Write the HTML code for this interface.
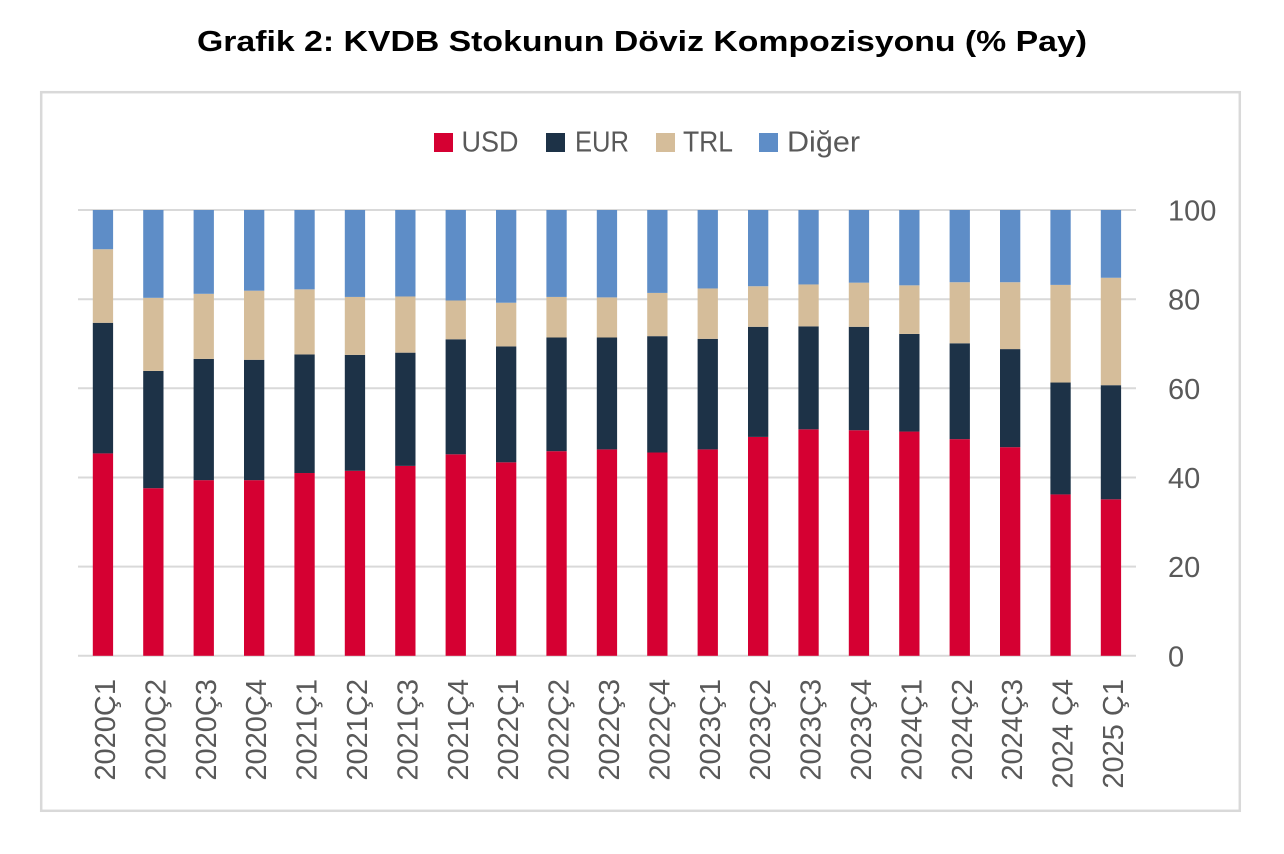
<!DOCTYPE html>
<html>
<head>
<meta charset="utf-8">
<style>
  html,body{margin:0;padding:0;background:#fff;}
  svg{display:block;}
  text{font-family:"Liberation Sans", sans-serif;}
</style>
</head>
<body>
<svg width="1284" height="854" viewBox="0 0 1284 854" xmlns="http://www.w3.org/2000/svg">
  <rect x="0" y="0" width="1284" height="854" fill="#fff"/>
  <!-- Title -->
  <text x="197" y="51" font-size="29" font-weight="bold" fill="#000" textLength="890" lengthAdjust="spacingAndGlyphs">Grafik 2: KVDB Stokunun Döviz Kompozisyonu (% Pay)</text>
  <!-- Frame -->
  <rect x="41.2" y="92.2" width="1198.6" height="718.6" fill="none" stroke="#d9d9d9" stroke-width="2.5"/>

  <!-- Legend -->
  <rect x="434" y="133" width="19" height="19" fill="#d50032"/>
  <text x="461.5" y="151.5" font-size="29" fill="#595959" textLength="57" lengthAdjust="spacingAndGlyphs">USD</text>
  <rect x="546" y="133" width="19" height="19" fill="#1d3247"/>
  <text x="575" y="151.5" font-size="29" fill="#595959" textLength="54" lengthAdjust="spacingAndGlyphs">EUR</text>
  <rect x="656" y="133" width="19" height="19" fill="#d5bd9a"/>
  <text x="683" y="151.5" font-size="29" fill="#595959" textLength="50" lengthAdjust="spacingAndGlyphs">TRL</text>
  <rect x="759" y="133" width="19" height="19" fill="#5e8dc7"/>
  <text x="787" y="151.5" font-size="29" fill="#595959" textLength="73" lengthAdjust="spacingAndGlyphs">Diğer</text>

  <!-- Gridlines -->
  <g stroke="#d9d9d9" stroke-width="2">
    <line x1="78" y1="210" x2="1136" y2="210"/>
    <line x1="78" y1="299.2" x2="1136" y2="299.2"/>
    <line x1="78" y1="388.3" x2="1136" y2="388.3"/>
    <line x1="78" y1="477.5" x2="1136" y2="477.5"/>
    <line x1="78" y1="566.6" x2="1136" y2="566.6"/>
    <line x1="78" y1="655.8" x2="1136" y2="655.8"/>
  </g>

  <!-- Y labels -->
  <g font-size="29" fill="#595959">
    <text x="1168" y="220.5">100</text>
    <text x="1168" y="309.7">80</text>
    <text x="1168" y="398.8">60</text>
    <text x="1168" y="488">40</text>
    <text x="1168" y="577.1">20</text>
    <text x="1168" y="666.3">0</text>
  </g>

  <!-- Bars -->
  <g transform="translate(0,655.8) scale(1,-4.458)">
    <!-- 1 -->
    <rect x="92.8" y="0" width="20.3" height="45.4" fill="#d50032"/>
    <rect x="92.8" y="45.4" width="20.3" height="29.3" fill="#1d3247"/>
    <rect x="92.8" y="74.7" width="20.3" height="16.5" fill="#d5bd9a"/>
    <rect x="92.8" y="91.2" width="20.3" height="8.8" fill="#5e8dc7"/>
    <!-- 2 -->
    <rect x="143.2" y="0" width="20.3" height="37.6" fill="#d50032"/>
    <rect x="143.2" y="37.6" width="20.3" height="26.3" fill="#1d3247"/>
    <rect x="143.2" y="63.9" width="20.3" height="16.4" fill="#d5bd9a"/>
    <rect x="143.2" y="80.3" width="20.3" height="19.7" fill="#5e8dc7"/>
    <!-- 3 -->
    <rect x="193.6" y="0" width="20.3" height="39.4" fill="#d50032"/>
    <rect x="193.6" y="39.4" width="20.3" height="27.2" fill="#1d3247"/>
    <rect x="193.6" y="66.6" width="20.3" height="14.6" fill="#d5bd9a"/>
    <rect x="193.6" y="81.2" width="20.3" height="18.8" fill="#5e8dc7"/>
    <!-- 4 -->
    <rect x="244.0" y="0" width="20.3" height="39.4" fill="#d50032"/>
    <rect x="244.0" y="39.4" width="20.3" height="27.0" fill="#1d3247"/>
    <rect x="244.0" y="66.4" width="20.3" height="15.5" fill="#d5bd9a"/>
    <rect x="244.0" y="81.9" width="20.3" height="18.1" fill="#5e8dc7"/>
    <!-- 5 -->
    <rect x="294.4" y="0" width="20.3" height="41.0" fill="#d50032"/>
    <rect x="294.4" y="41.0" width="20.3" height="26.6" fill="#1d3247"/>
    <rect x="294.4" y="67.6" width="20.3" height="14.6" fill="#d5bd9a"/>
    <rect x="294.4" y="82.2" width="20.3" height="17.8" fill="#5e8dc7"/>
    <!-- 6 -->
    <rect x="344.8" y="0" width="20.3" height="41.5" fill="#d50032"/>
    <rect x="344.8" y="41.5" width="20.3" height="26.0" fill="#1d3247"/>
    <rect x="344.8" y="67.5" width="20.3" height="13.0" fill="#d5bd9a"/>
    <rect x="344.8" y="80.5" width="20.3" height="19.5" fill="#5e8dc7"/>
    <!-- 7 -->
    <rect x="395.2" y="0" width="20.3" height="42.6" fill="#d50032"/>
    <rect x="395.2" y="42.6" width="20.3" height="25.4" fill="#1d3247"/>
    <rect x="395.2" y="68.0" width="20.3" height="12.6" fill="#d5bd9a"/>
    <rect x="395.2" y="80.6" width="20.3" height="19.4" fill="#5e8dc7"/>
    <!-- 8 -->
    <rect x="445.6" y="0" width="20.3" height="45.2" fill="#d50032"/>
    <rect x="445.6" y="45.2" width="20.3" height="25.8" fill="#1d3247"/>
    <rect x="445.6" y="71.0" width="20.3" height="8.7" fill="#d5bd9a"/>
    <rect x="445.6" y="79.7" width="20.3" height="20.3" fill="#5e8dc7"/>
    <!-- 9 -->
    <rect x="496.0" y="0" width="20.3" height="43.4" fill="#d50032"/>
    <rect x="496.0" y="43.4" width="20.3" height="26.0" fill="#1d3247"/>
    <rect x="496.0" y="69.4" width="20.3" height="9.8" fill="#d5bd9a"/>
    <rect x="496.0" y="79.2" width="20.3" height="20.8" fill="#5e8dc7"/>
    <!-- 10 -->
    <rect x="546.4" y="0" width="20.3" height="45.9" fill="#d50032"/>
    <rect x="546.4" y="45.9" width="20.3" height="25.5" fill="#1d3247"/>
    <rect x="546.4" y="71.4" width="20.3" height="9.1" fill="#d5bd9a"/>
    <rect x="546.4" y="80.5" width="20.3" height="19.5" fill="#5e8dc7"/>
    <!-- 11 -->
    <rect x="596.8" y="0" width="20.3" height="46.3" fill="#d50032"/>
    <rect x="596.8" y="46.3" width="20.3" height="25.1" fill="#1d3247"/>
    <rect x="596.8" y="71.4" width="20.3" height="9.0" fill="#d5bd9a"/>
    <rect x="596.8" y="80.4" width="20.3" height="19.6" fill="#5e8dc7"/>
    <!-- 12 -->
    <rect x="647.2" y="0" width="20.3" height="45.6" fill="#d50032"/>
    <rect x="647.2" y="45.6" width="20.3" height="26.1" fill="#1d3247"/>
    <rect x="647.2" y="71.7" width="20.3" height="9.7" fill="#d5bd9a"/>
    <rect x="647.2" y="81.4" width="20.3" height="18.6" fill="#5e8dc7"/>
    <!-- 13 -->
    <rect x="697.6" y="0" width="20.3" height="46.3" fill="#d50032"/>
    <rect x="697.6" y="46.3" width="20.3" height="24.8" fill="#1d3247"/>
    <rect x="697.6" y="71.1" width="20.3" height="11.3" fill="#d5bd9a"/>
    <rect x="697.6" y="82.4" width="20.3" height="17.6" fill="#5e8dc7"/>
    <!-- 14 -->
    <rect x="748.0" y="0" width="20.3" height="49.1" fill="#d50032"/>
    <rect x="748.0" y="49.1" width="20.3" height="24.7" fill="#1d3247"/>
    <rect x="748.0" y="73.8" width="20.3" height="9.1" fill="#d5bd9a"/>
    <rect x="748.0" y="82.9" width="20.3" height="17.1" fill="#5e8dc7"/>
    <!-- 15 -->
    <rect x="798.4" y="0" width="20.3" height="50.8" fill="#d50032"/>
    <rect x="798.4" y="50.8" width="20.3" height="23.1" fill="#1d3247"/>
    <rect x="798.4" y="73.9" width="20.3" height="9.4" fill="#d5bd9a"/>
    <rect x="798.4" y="83.3" width="20.3" height="16.7" fill="#5e8dc7"/>
    <!-- 16 -->
    <rect x="848.8" y="0" width="20.3" height="50.6" fill="#d50032"/>
    <rect x="848.8" y="50.6" width="20.3" height="23.2" fill="#1d3247"/>
    <rect x="848.8" y="73.8" width="20.3" height="9.9" fill="#d5bd9a"/>
    <rect x="848.8" y="83.7" width="20.3" height="16.3" fill="#5e8dc7"/>
    <!-- 17 -->
    <rect x="899.2" y="0" width="20.3" height="50.3" fill="#d50032"/>
    <rect x="899.2" y="50.3" width="20.3" height="21.9" fill="#1d3247"/>
    <rect x="899.2" y="72.2" width="20.3" height="10.9" fill="#d5bd9a"/>
    <rect x="899.2" y="83.1" width="20.3" height="16.9" fill="#5e8dc7"/>
    <!-- 18 -->
    <rect x="949.6" y="0" width="20.3" height="48.6" fill="#d50032"/>
    <rect x="949.6" y="48.6" width="20.3" height="21.5" fill="#1d3247"/>
    <rect x="949.6" y="70.1" width="20.3" height="13.7" fill="#d5bd9a"/>
    <rect x="949.6" y="83.8" width="20.3" height="16.2" fill="#5e8dc7"/>
    <!-- 19 -->
    <rect x="1000.0" y="0" width="20.3" height="46.8" fill="#d50032"/>
    <rect x="1000.0" y="46.8" width="20.3" height="22.0" fill="#1d3247"/>
    <rect x="1000.0" y="68.8" width="20.3" height="15.0" fill="#d5bd9a"/>
    <rect x="1000.0" y="83.8" width="20.3" height="16.2" fill="#5e8dc7"/>
    <!-- 20 -->
    <rect x="1050.4" y="0" width="20.3" height="36.2" fill="#d50032"/>
    <rect x="1050.4" y="36.2" width="20.3" height="25.1" fill="#1d3247"/>
    <rect x="1050.4" y="61.3" width="20.3" height="21.9" fill="#d5bd9a"/>
    <rect x="1050.4" y="83.2" width="20.3" height="16.8" fill="#5e8dc7"/>
    <!-- 21 -->
    <rect x="1100.8" y="0" width="20.3" height="35.1" fill="#d50032"/>
    <rect x="1100.8" y="35.1" width="20.3" height="25.6" fill="#1d3247"/>
    <rect x="1100.8" y="60.7" width="20.3" height="24.1" fill="#d5bd9a"/>
    <rect x="1100.8" y="84.8" width="20.3" height="15.2" fill="#5e8dc7"/>
  </g>

  <!-- X labels -->
  <g font-size="29" fill="#595959" text-anchor="end">
    <text transform="translate(115,679) rotate(-90)">2020Ç1</text>
    <text transform="translate(165.4,679) rotate(-90)">2020Ç2</text>
    <text transform="translate(215.8,679) rotate(-90)">2020Ç3</text>
    <text transform="translate(266.2,679) rotate(-90)">2020Ç4</text>
    <text transform="translate(316.6,679) rotate(-90)">2021Ç1</text>
    <text transform="translate(367,679) rotate(-90)">2021Ç2</text>
    <text transform="translate(417.4,679) rotate(-90)">2021Ç3</text>
    <text transform="translate(467.8,679) rotate(-90)">2021Ç4</text>
    <text transform="translate(518.2,679) rotate(-90)">2022Ç1</text>
    <text transform="translate(568.6,679) rotate(-90)">2022Ç2</text>
    <text transform="translate(619,679) rotate(-90)">2022Ç3</text>
    <text transform="translate(669.4,679) rotate(-90)">2022Ç4</text>
    <text transform="translate(719.8,679) rotate(-90)">2023Ç1</text>
    <text transform="translate(770.2,679) rotate(-90)">2023Ç2</text>
    <text transform="translate(820.6,679) rotate(-90)">2023Ç3</text>
    <text transform="translate(871,679) rotate(-90)">2023Ç4</text>
    <text transform="translate(921.4,679) rotate(-90)">2024Ç1</text>
    <text transform="translate(971.8,679) rotate(-90)">2024Ç2</text>
    <text transform="translate(1022.2,679) rotate(-90)">2024Ç3</text>
    <text transform="translate(1072.6,679) rotate(-90)">2024<tspan dx="8">Ç4</tspan></text>
    <text transform="translate(1123,679) rotate(-90)">2025<tspan dx="8">Ç1</tspan></text>
  </g>
</svg>
</body>
</html>
